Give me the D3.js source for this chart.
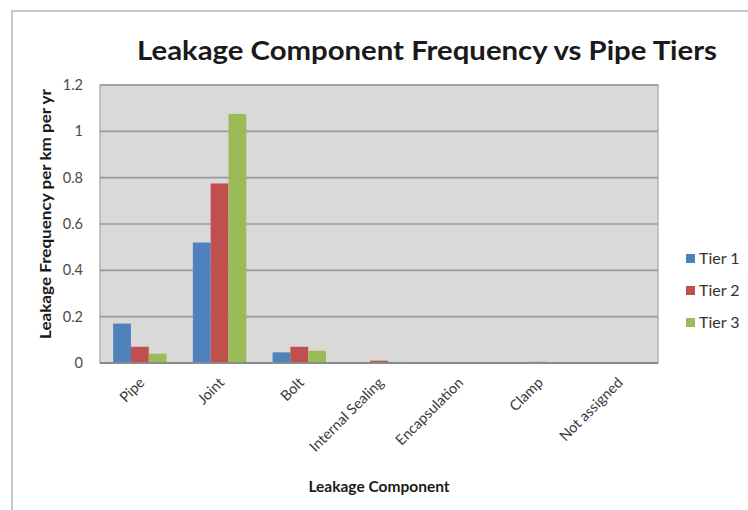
<!DOCTYPE html>
<html>
<head>
<meta charset="utf-8">
<script src="https://cdn.jsdelivr.net/npm/d3@7"></script>
<style>
  html, body { margin: 0; padding: 0; background: #fff; }
  svg text { font-family: Lato, "Open Sans", sans-serif; }
</style>
</head>
<body>
<svg id="chart" width="748" height="510"></svg>
<script>
// Leakage frequency (per km per year) by component, for each pipe tier
const categories = ["Pipe", "Joint", "Bolt", "Internal Sealing", "Encapsulation", "Clamp", "Not assigned"];
const seriesNames = ["Tier 1", "Tier 2", "Tier 3"];
const tier1 = [0.17, 0.52, 0.046, 0.003, 0.001, 0.002, 0.001];
const tier2 = [0.07, 0.775, 0.07, 0.01, 0.001, 0.005, 0.002];
const tier3 = [0.04, 1.075, 0.053, 0.005, 0.001, 0.002, 0.001];
const yTicks = [0, 0.2, 0.4, 0.6, 0.8, 1, 1.2];
const colors = ["#4f81bd", "#c0504d", "#9bbb59"];

const series = [tier1, tier2, tier3];
const rows = categories.map((c, i) => ({
  category: c,
  values: seriesNames.map((s, j) => ({ series: s, value: series[j][i], color: colors[j] }))
}));

const svg = d3.select("#chart");

// outer chart frame
svg.append("path")
  .attr("d", "M12,511 L12,11 L749,11")
  .attr("fill", "none")
  .attr("stroke", "#c6c6c6")
  .attr("stroke-width", 2);

const plot = { left: 100, right: 658, top: 85, bottom: 363 };

const x = d3.scaleBand()
  .domain(categories)
  .range([plot.left, plot.right])
  .paddingInner(0.33)
  .paddingOuter(0.165);

const xInner = d3.scaleBand()
  .domain(seriesNames)
  .range([0, x.bandwidth()]);

const y = d3.scaleLinear()
  .domain([0, 1.2])
  .range([plot.bottom, plot.top]);

// plot area background
svg.append("rect")
  .attr("x", plot.left)
  .attr("y", plot.top)
  .attr("width", plot.right - plot.left)
  .attr("height", plot.bottom - plot.top)
  .attr("fill", "#d9d9d9")
  .attr("stroke", "#b4b4b4")
  .attr("stroke-width", 1.5);

// horizontal gridlines
svg.append("g")
  .selectAll("line")
  .data(yTicks.filter(t => t > 0))
  .join("line")
  .attr("x1", plot.left)
  .attr("x2", plot.right)
  .attr("y1", d => y(d))
  .attr("y2", d => y(d))
  .attr("stroke", "#9a9a9a")
  .attr("stroke-width", 1.6);

// bars
const groups = svg.append("g")
  .selectAll("g")
  .data(rows)
  .join("g")
  .attr("transform", d => `translate(${x(d.category)},0)`);

groups.selectAll("rect")
  .data(d => d.values)
  .join("rect")
  .attr("x", d => xInner(d.series))
  .attr("width", xInner.bandwidth())
  .attr("y", d => y(d.value))
  .attr("height", d => y(0) - y(d.value))
  .attr("fill", d => d.color);

// category axis line
svg.append("line")
  .attr("x1", plot.left)
  .attr("x2", plot.right)
  .attr("y1", y(0))
  .attr("y2", y(0))
  .attr("stroke", "#8a8a8a")
  .attr("stroke-width", 2);

// value axis labels
const yAxis = d3.axisLeft(y)
  .tickValues(yTicks)
  .tickSize(0)
  .tickPadding(17)
  .tickFormat(d3.format("~g"));

const yAxisG = svg.append("g")
  .attr("transform", `translate(${plot.left},0)`)
  .call(yAxis);
yAxisG.select(".domain").remove();
yAxisG.selectAll("text")
  .attr("font-family", "Lato, 'Open Sans', sans-serif")
  .attr("font-size", 14.5)
  .attr("fill", "#4a4a4a");

// category axis labels, rotated
const xAxis = d3.axisBottom(x).tickSize(0).tickPadding(0);
const xAxisG = svg.append("g")
  .attr("transform", `translate(0,${plot.bottom})`)
  .call(xAxis);
xAxisG.select(".domain").remove();
xAxisG.selectAll("text")
  .attr("font-family", "Lato, 'Open Sans', sans-serif")
  .attr("font-size", 14.5)
  .attr("fill", "#3a3a3a")
  .attr("text-anchor", "end")
  .attr("y", 0)
  .attr("dy", "0.35em")
  .attr("transform", "translate(2,17) rotate(-45)");

// chart title
svg.append("text")
  .attr("x", 427)
  .attr("y", 60)
  .attr("text-anchor", "middle")
  .attr("font-size", 27)
  .attr("font-weight", "bold")
  .attr("fill", "#1a1a1a")
  .attr("textLength", 580)
  .attr("lengthAdjust", "spacingAndGlyphs")
  .text("Leakage Component Frequency vs Pipe Tiers");

// axis titles
svg.append("text")
  .attr("transform", "translate(51,214) rotate(-90)")
  .attr("text-anchor", "middle")
  .attr("font-size", 15)
  .attr("font-weight", "bold")
  .attr("fill", "#1a1a1a")
  .attr("textLength", 250)
  .attr("lengthAdjust", "spacingAndGlyphs")
  .text("Leakage Frequency per km per yr");

svg.append("text")
  .attr("x", (plot.left + plot.right) / 2)
  .attr("y", 492)
  .attr("text-anchor", "middle")
  .attr("font-size", 15.5)
  .attr("font-weight", "bold")
  .attr("fill", "#1a1a1a")
  .text("Leakage Component");

// legend
const legend = svg.append("g")
  .selectAll("g")
  .data(seriesNames)
  .join("g")
  .attr("transform", (d, i) => `translate(686,${254 + i * 32})`);

legend.append("rect")
  .attr("width", 9)
  .attr("height", 9)
  .attr("fill", (d, i) => colors[i]);

legend.append("text")
  .attr("x", 13)
  .attr("y", 10)
  .attr("font-size", 16)
  .attr("fill", "#333")
  .text(d => d);
</script>
</body>
</html>
